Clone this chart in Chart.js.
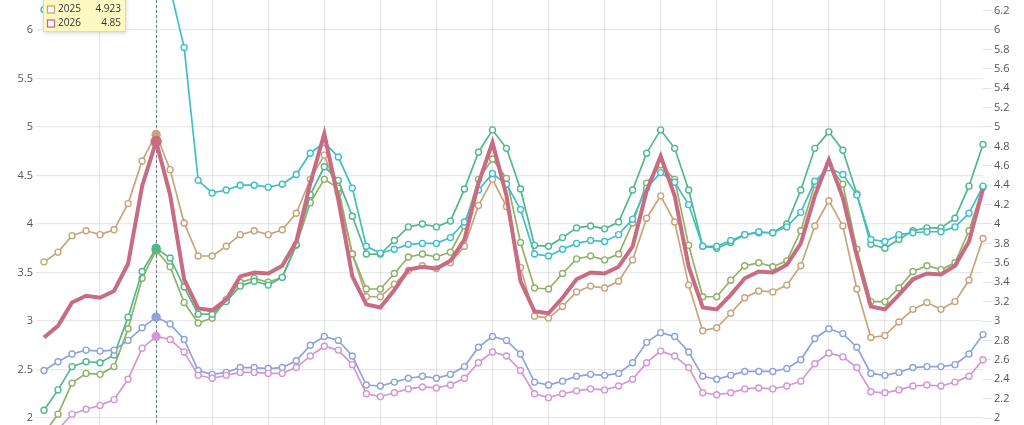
<!DOCTYPE html>
<html>
<head>
<meta charset="utf-8">
<script src="https://cdn.jsdelivr.net/npm/chart.js@4.4.1/dist/chart.umd.min.js"></script>
<style>
  html, body { margin: 0; padding: 0; background: #fff; overflow: hidden; }
  #wrap { width: 1024px; height: 425px; }
</style>
</head>
<body>
<div id="wrap"><canvas id="priceChart" width="1024" height="425"></canvas></div>
<script>
// x categories (the axis labels are cropped off in the reference)
const weeks = ['1','2','3','4','5','6','7','8','9','10','11','12','13','14','15','16','17','18','19','20',
  '21','22','23','24','25','26','27','28','29','30','31','32','33','34','35','36','37','38','39','40',
  '41','42','43','44','45','46','47','48','49','50','51','52','53','54','55','56','57','58','59','60',
  '61','62','63','64','65','66','67','68'];

const years = ['2020', '2021', '2022', '2023', '2024', '2025', '2026'];

const s2020 = [1.72,1.88,2.04,2.09,2.13,2.19,2.40,2.72,2.84,2.81,2.68,2.44,
  2.41,2.44,2.47,2.47,2.46,2.46,2.52,2.64,2.74,2.70,2.55,2.25,
  2.22,2.26,2.30,2.32,2.31,2.34,2.41,2.57,2.68,2.64,2.49,2.25,
  2.21,2.25,2.28,2.30,2.29,2.33,2.40,2.57,2.69,2.64,2.52,2.26,
  2.24,2.26,2.30,2.31,2.30,2.33,2.38,2.56,2.67,2.63,2.52,2.27,
  2.26,2.29,2.33,2.34,2.33,2.37,2.43,2.60];
const s2021 = [2.49,2.58,2.66,2.70,2.69,2.70,2.80,2.93,3.04,2.97,2.81,2.49,
  2.45,2.47,2.52,2.52,2.51,2.52,2.59,2.75,2.84,2.80,2.64,2.34,
  2.33,2.37,2.41,2.43,2.41,2.45,2.53,2.73,2.84,2.80,2.66,2.37,
  2.34,2.38,2.43,2.45,2.44,2.46,2.57,2.78,2.88,2.84,2.68,2.43,
  2.40,2.44,2.48,2.48,2.48,2.51,2.60,2.82,2.92,2.87,2.73,2.46,
  2.44,2.47,2.52,2.53,2.53,2.55,2.66,2.86];
const s2022 = [6.21,6.35,6.50,6.55,6.50,6.60,6.90,7.20,7.30,6.43,5.82,4.45,
  4.32,4.35,4.40,4.40,4.38,4.41,4.51,4.73,4.84,4.69,4.37,3.77,
  3.70,3.74,3.79,3.80,3.80,3.86,4.02,4.35,4.52,4.41,4.15,3.69,
  3.67,3.74,3.80,3.83,3.82,3.89,4.05,4.37,4.53,4.43,4.20,3.77,
  3.77,3.83,3.89,3.92,3.91,3.97,4.12,4.44,4.58,4.51,4.30,3.84,
  3.82,3.89,3.91,3.92,3.92,3.97,4.11,4.39];
const s2023 = [2.08,2.29,2.53,2.58,2.57,2.65,3.04,3.51,3.75,3.65,3.35,3.07,
  3.07,3.20,3.36,3.41,3.37,3.45,3.79,4.30,4.59,4.45,4.08,3.69,
  3.69,3.83,3.97,4.00,3.97,4.03,4.36,4.74,4.97,4.78,4.36,3.78,
  3.77,3.86,3.96,3.98,3.95,4.02,4.35,4.73,4.97,4.78,4.35,3.77,
  3.75,3.81,3.89,3.91,3.91,4.00,4.35,4.78,4.95,4.76,4.31,3.79,
  3.75,3.84,3.93,3.96,3.96,4.06,4.39,4.82];
const s2024 = [1.84,2.04,2.36,2.46,2.45,2.53,2.92,3.44,3.73,3.56,3.19,2.98,
  3.03,3.22,3.40,3.44,3.40,3.45,3.78,4.22,4.46,4.37,3.69,3.33,
  3.33,3.49,3.66,3.69,3.66,3.71,3.98,4.46,4.67,4.47,3.81,3.34,
  3.33,3.49,3.64,3.67,3.63,3.69,4.01,4.42,4.61,4.46,3.78,3.25,
  3.25,3.42,3.57,3.60,3.56,3.62,3.93,4.41,4.61,4.41,3.74,3.20,
  3.20,3.34,3.51,3.57,3.53,3.60,3.93,4.38];
const s2025 = [3.61,3.71,3.88,3.93,3.89,3.94,4.21,4.65,4.923,4.56,4.01,3.67,
  3.67,3.77,3.89,3.93,3.89,3.94,4.11,4.46,4.71,4.32,3.69,3.25,
  3.25,3.38,3.52,3.57,3.54,3.60,3.77,4.19,4.46,4.18,3.55,3.05,
  3.03,3.15,3.30,3.36,3.34,3.41,3.63,4.06,4.29,4.02,3.37,2.90,
  2.93,3.08,3.24,3.31,3.30,3.37,3.57,3.98,4.24,3.98,3.33,2.83,
  2.85,2.99,3.12,3.19,3.12,3.20,3.42,3.85];
const s2026 = [2.83,2.95,3.19,3.26,3.24,3.31,3.59,4.39,4.85,4.30,3.43,3.13,
  3.11,3.22,3.46,3.50,3.49,3.57,3.82,4.42,4.93,4.25,3.46,3.17,
  3.14,3.32,3.53,3.56,3.54,3.62,3.84,4.42,4.84,4.29,3.41,3.10,
  3.08,3.24,3.43,3.50,3.49,3.56,3.77,4.34,4.70,4.29,3.56,3.14,
  3.12,3.27,3.44,3.51,3.50,3.58,3.80,4.29,4.66,4.27,3.67,3.15,
  3.12,3.27,3.43,3.49,3.48,3.57,3.82,4.36];

const seriesData = [s2020, s2021, s2022, s2023, s2024, s2025, s2026];
const colors = ['#d497d6', '#8fa2de', '#3fbfcc', '#4fb98c', '#8fb266', '#caa37b', '#c96b81'];

const HOVER = 8;          // index under the cursor in the screenshot
const Y_MIN = 1.928;
const Y_MAX = 6.309;
const gridCol = 'rgba(0,0,0,0.09)';
const tickFont = { family: "'Open Sans', sans-serif", size: 11 };
const fmt = v => String(parseFloat(Number(v).toFixed(2)));

const datasets = seriesData.map((d, k) => {
  const isMain = k === seriesData.length - 1;
  return {
    label: years[k],
    data: d,
    borderColor: colors[k],
    borderWidth: isMain ? 4 : 1.7,
    tension: 0,
    order: isMain ? 0 : 1,
    pointRadius: c => c.dataIndex === HOVER ? (isMain ? 5 : 4) : (isMain ? 0 : 3),
    pointBackgroundColor: c => c.dataIndex === HOVER ? colors[k] : '#fff',
    pointBorderColor: colors[k],
    pointBorderWidth: 1.4
  };
});

// dashed cursor line + tooltip box (top part of it is off canvas)
const hoverPlugin = {
  id: 'hoverPlugin',
  beforeDatasetsDraw(chart) {
    const ctx = chart.ctx, a = chart.chartArea;
    const x = Math.round(chart.scales.x.getPixelForValue(HOVER)) + 0.5;
    ctx.save();
    ctx.setLineDash([3, 2]);
    ctx.strokeStyle = '#6f7f8e';
    ctx.lineWidth = 1;
    ctx.beginPath();
    ctx.moveTo(x, a.top);
    ctx.lineTo(x, a.bottom);
    ctx.stroke();
    ctx.restore();
  },
  afterDraw(chart) {
    const ctx = chart.ctx;
    const rowH = 14, left = 43.5, right = 125.5, bottom = 31.5;
    const n = years.length;
    const top = bottom - (n + 1) * rowH - 8;
    ctx.save();
    ctx.shadowColor = 'rgba(0,0,0,0.18)';
    ctx.shadowBlur = 4;
    ctx.shadowOffsetY = 1;
    ctx.fillStyle = '#fff8c2';
    ctx.fillRect(left, top, right - left, bottom - top);
    ctx.shadowColor = 'transparent';
    ctx.strokeStyle = '#e4dc9c';
    ctx.lineWidth = 1;
    ctx.strokeRect(left, top, right - left, bottom - top);
    ctx.font = "10px 'Open Sans', sans-serif";
    ctx.textBaseline = 'middle';
    ctx.fillStyle = '#333';
    ctx.fillText(weeks[HOVER], left + 5, top + 10);
    for (let k = 0; k < n; k++) {
      const cy = bottom - 8 - (n - 1 - k) * rowH;
      ctx.fillStyle = '#fff';
      ctx.fillRect(47.5, cy - 3.5, 7, 7);
      ctx.strokeStyle = colors[k];
      ctx.lineWidth = 1.3;
      ctx.strokeRect(47.5, cy - 3.5, 7, 7);
      ctx.fillStyle = '#333';
      ctx.textAlign = 'left';
      ctx.fillText(years[k], 58, cy);
      ctx.textAlign = 'right';
      ctx.fillText(String(seriesData[k][HOVER]), 121, cy);
    }
    ctx.restore();
  }
};

new Chart(document.getElementById('priceChart'), {
  type: 'line',
  data: { labels: weeks, datasets: datasets },
  options: {
    responsive: false,
    devicePixelRatio: 1,
    animation: false,
    events: [],
    layout: { padding: 0, autoPadding: false },
    plugins: { legend: { display: false }, tooltip: { enabled: false } },
    scales: {
      x: {
        ticks: { display: false },
        grid: { color: c => (c.index > 0 && c.index % 4 === 0) ? gridCol : 'transparent', drawTicks: false, lineWidth: 1.2 },
        border: { display: false },
        afterFit: s => { s.height = 0; }
      },
      y: {
        position: 'left',
        min: Y_MIN, max: Y_MAX,
        ticks: { stepSize: 0.5, includeBounds: false, color: '#555', font: tickFont, padding: 3, callback: fmt },
        grid: { color: gridCol, tickLength: 8, lineWidth: 1.2 },
        border: { display: false },
        afterFit: s => { s.width = 44; s.paddingTop = 0; s.paddingBottom = 0; }
      },
      y1: {
        position: 'right',
        min: Y_MIN, max: Y_MAX,
        ticks: { stepSize: 0.2, includeBounds: false, color: '#555', font: tickFont, padding: 3, callback: fmt },
        grid: { drawOnChartArea: false, color: 'rgba(0,0,0,0.12)', tickLength: 8 },
        border: { display: false },
        afterFit: s => { s.width = 41; s.paddingTop = 0; s.paddingBottom = 0; }
      }
    }
  },
  plugins: [hoverPlugin]
});
</script>
</body>
</html>
